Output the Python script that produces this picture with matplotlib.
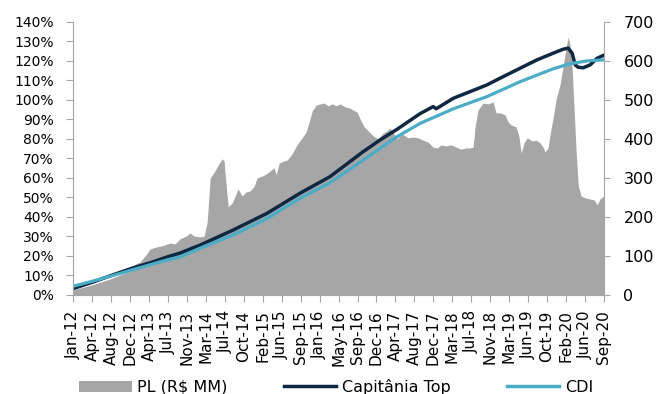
import matplotlib
matplotlib.use('Agg')
import matplotlib.pyplot as plt
from matplotlib.patches import Patch
from matplotlib.lines import Line2D
from matplotlib.ticker import FuncFormatter

plt.rcParams['font.family'] = ['DejaVu Sans']

# tick labels on the category axis (evenly spaced)
months = ['Jan-12', 'Apr-12', 'Aug-12', 'Dec-12', 'Apr-13', 'Jul-13', 'Nov-13',
          'Mar-14', 'Jul-14', 'Oct-14', 'Feb-15', 'Jun-15', 'Sep-15', 'Jan-16',
          'May-16', 'Sep-16', 'Dec-16', 'Apr-17', 'Aug-17', 'Dec-17', 'Mar-18',
          'Jul-18', 'Nov-18', 'Mar-19', 'Jun-19', 'Oct-19', 'Feb-20', 'Jun-20',
          'Sep-20']

# PL (R$ MM), x in label-step units
pl_t = [0.00, 1.00, 1.95, 3.01, 3.27, 3.53, 3.85, 4.06, 4.38, 4.69, 5.11, 5.38,
        5.64, 5.96, 6.17, 6.38, 6.70, 6.91, 7.07, 7.23, 7.44, 7.65, 7.86, 7.96,
        8.07, 8.18, 8.39, 8.70, 8.91, 9.12, 9.34, 9.55, 9.70, 9.97, 10.18, 10.39,
        10.60, 10.71, 10.87, 11.13, 11.29, 11.55, 11.81, 12.08, 12.29, 12.45,
        12.61, 12.82, 13.03, 13.24, 13.45, 13.66, 13.87, 14.08, 14.35, 14.61,
        14.77, 14.98, 15.14, 15.35, 15.56, 15.82, 16.09, 16.35, 16.56, 16.72,
        16.93, 17.09, 17.35, 17.67, 17.93, 18.20, 18.46, 18.72, 18.99, 19.20,
        19.41, 19.67, 19.94, 20.20, 20.46, 20.73, 20.94, 21.10, 21.20, 21.36,
        21.62, 21.89, 22.15, 22.31, 22.52, 22.78, 22.94, 23.10, 23.36, 23.52,
        23.63, 23.79, 23.95, 24.21, 24.42, 24.63, 24.79, 24.89, 25.05, 25.16,
        25.32, 25.47, 25.69, 25.84, 26.00, 26.11, 26.21, 26.32, 26.42, 26.53,
        26.64, 26.79, 27.00, 27.27, 27.48, 27.64, 27.79, 28.00]
pl_val = [13, 26, 41, 62, 79, 85, 103, 118, 123, 126, 133, 131,
          144, 151, 159, 151, 149, 151, 187, 300, 315, 333, 349, 344,
          282, 226, 236, 272, 254, 264, 267, 279, 300, 305, 310, 318,
          326, 308, 338, 344, 346, 362, 385, 403, 418, 444,
          472, 487, 490, 492, 485, 490, 485, 490, 482, 479,
          474, 469, 451, 431, 421, 408, 400, 415, 421, 428,
          413, 400, 413, 403, 405, 403, 397, 392, 379, 377,
          385, 382, 385, 379, 374, 377, 377, 379, 431, 474,
          492, 490, 495, 467, 467, 462, 444, 436, 431, 405,
          364, 390, 403, 395, 397, 390, 379, 367, 377, 413,
          454, 500, 541, 585, 633, 662, 641, 582, 480, 370,
          282, 254, 249, 246, 244, 231, 246, 254]

# Capitânia Top, accumulated %
cap_t = [0.00, 1.00, 1.95, 3.16, 4.06, 4.96, 5.64, 6.70, 8.44, 10.23, 11.97,
         13.55, 15.30, 16.19, 17.09, 18.30, 18.99, 19.15, 20.06, 21.82, 22.69,
         23.58, 24.45, 25.32, 25.84, 26.11, 26.32, 26.48, 26.64, 26.90, 27.27,
         27.64, 28.00]
cap_val = [3.3, 6.5, 9.8, 13.9, 16.5, 19.5, 21.5, 25.6, 33.3, 41.9, 52.2,
           60.7, 73.5, 79.5, 85.0, 93.0, 96.6, 95.5, 100.9, 107.7, 112.0,
           116.3, 120.5, 124.0, 126.0, 126.6, 124.0, 118.0, 116.8, 116.5, 118.0,
           121.4, 123.0]

# CDI, accumulated %
cdi_t = [0.00, 1.00, 1.95, 3.16, 4.06, 4.96, 5.64, 6.70, 8.44, 10.23, 11.97,
         13.55, 15.30, 17.09, 18.30, 20.06, 21.82, 23.58, 25.32, 26.21, 27.09,
         28.00]
cdi_val = [4.5, 7.0, 9.6, 13.0, 15.5, 18.0, 19.5, 24.0, 30.8, 39.3, 49.6,
           57.6, 69.2, 81.2, 88.0, 95.5, 101.7, 109.4, 116.0, 118.6, 120.0,
           120.6]

gray = '#a6a6a6'
navy = '#0e2841'
cyan = '#4bacc6'

fig = plt.figure(figsize=(6.59, 3.94), dpi=100)
ax = fig.add_axes([0.111, 0.2513, 0.8055, 0.6929])
ax2 = ax.twinx()

ax2.fill_between(pl_t, pl_val, color=gray, lw=0)
ax.plot(cap_t, cap_val, color=navy, lw=2.5, solid_capstyle='round',
        solid_joinstyle='round')
ax.plot(cdi_t, cdi_val, color=cyan, lw=2.3, solid_joinstyle='round')

ax.set_zorder(ax2.get_zorder() + 1)
ax.patch.set_visible(False)

ax.set_xlim(0, 28)
ax.set_ylim(0, 140)
ax2.set_ylim(0, 700)

ax.set_xticks(range(len(months)))
ax.set_xticklabels(months, rotation=90, fontsize=11)
ax.set_yticks(range(0, 141, 10))
ax.yaxis.set_major_formatter(FuncFormatter(lambda v, p: '%d%%' % v))
ax2.set_yticks(range(0, 701, 100))

for s in ['top', 'right']:
    ax.spines[s].set_visible(False)
for s in ['top', 'left', 'bottom']:
    ax2.spines[s].set_visible(False)
ax.spines['left'].set_color(gray)
ax.spines['bottom'].set_color(gray)
ax2.spines['right'].set_color(gray)

ax.tick_params(axis='y', length=5, color=gray, labelsize=10, pad=9)
ax.tick_params(axis='x', length=5, color=gray, pad=6)
ax2.tick_params(axis='y', length=4, color=gray, labelsize=11.5, pad=10)

handles = [Patch(facecolor=gray, edgecolor='none'),
           Line2D([], [], color=navy, lw=2.5),
           Line2D([], [], color=cyan, lw=2.5)]
fig.legend(handles, ['PL (R$ MM)', 'Capitânia Top', 'CDI'],
           loc='center left', bbox_to_anchor=(0.12, 0.018), ncol=3,
           frameon=False, fontsize=11.5, handlelength=3.3,
           handletextpad=0.35, columnspacing=3.5, borderpad=0,
           borderaxespad=0)

fig.savefig('out.png', dpi=100)
